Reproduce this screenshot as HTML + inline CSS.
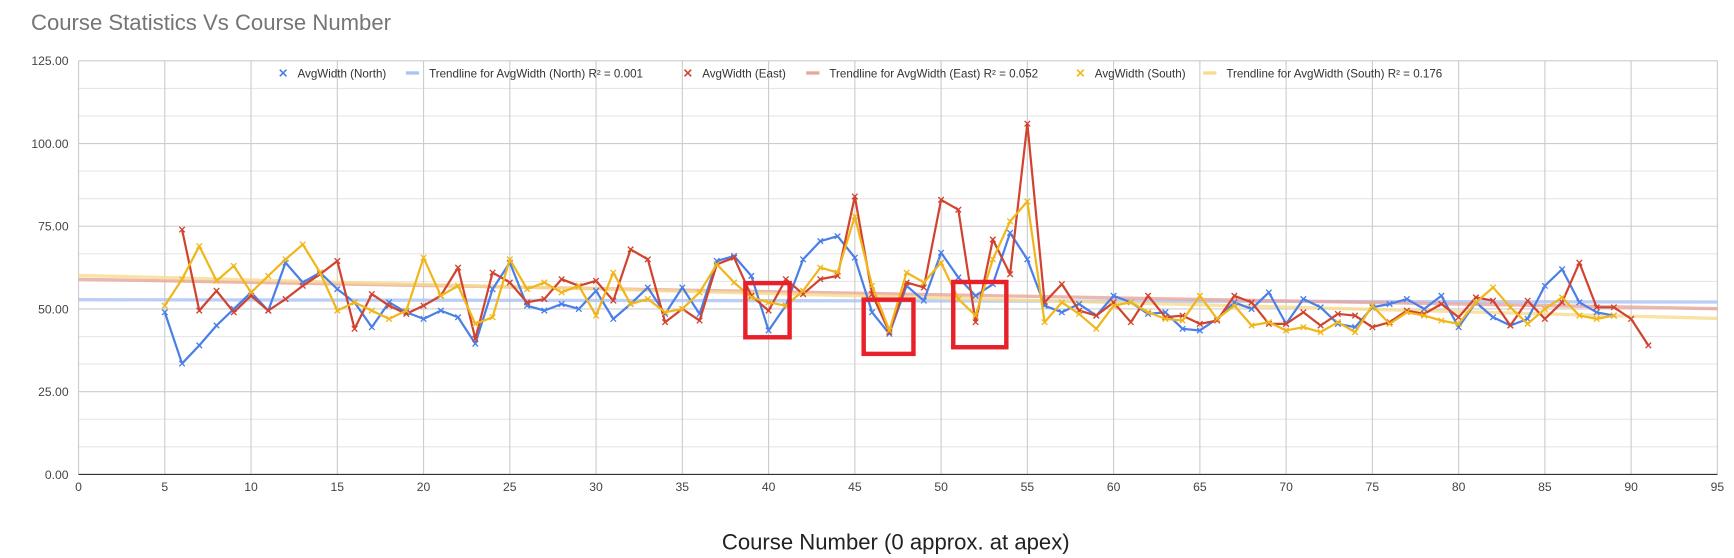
<!DOCTYPE html>
<html><head><meta charset="utf-8"><style>
body{margin:0;background:#fff;font-family:"Liberation Sans",Arial,sans-serif;overflow:hidden}
svg{display:block}
</style></head><body>
<svg id="c" width="1734" height="558" viewBox="0 0 1568 504.6">
<text x="28" y="27" font-size="20" fill="#757575">Course Statistics Vs Course Number</text>
<text x="810" y="497" font-size="20" fill="#222" text-anchor="middle">Course Number (0 approx. at apex)</text>
<g id="grid"></g><g id="axes"></g><g id="trends"></g><g id="series"></g><g id="legend"></g>
</svg>
<script>
const northX=[5,6,7,8,9,10,11,12,13,14,15,16,17,18,19,20,21,22,23,24,25,26,27,28,29,30,31,32,33,34,35,36,37,38,39,40,41,42,43,44,45,46,47,48,49,50,51,52,53,54,55,56,57,58,59,60,61,62,63,64,65,66,67,68,69,70,71,72,73,74,75,76,77,78,79,80,81,82,83,84,85,86,87,88,89];
const northY=[49,33.5,39,45,50,55,49.5,64,58,61,56,52,44.5,52,49,47,49.5,47.5,39.5,56,64,51,49.5,51.5,50,55.5,47,51.5,56.5,48.5,56.5,48.5,64.5,66,60,43.5,51,65,70.5,72,65.5,49,42.5,57,52.5,67,59.5,54,57.5,73,65,51,49,51.5,48,54,52,48.5,49,44,43.5,47,52,50,55,45.5,53,50.5,45.5,44.5,50.5,51.5,53,50,54,44.5,52,47.5,45,47,57,62,52,49,48];
const eastX=[6,7,8,9,10,11,12,13,14,15,16,17,18,19,20,21,22,23,24,25,26,27,28,29,30,31,32,33,34,35,36,37,38,39,40,41,42,43,44,45,46,47,48,49,50,51,52,53,54,55,56,57,58,59,60,61,62,63,64,65,66,67,68,69,70,71,72,73,74,75,76,77,78,79,80,81,82,83,84,85,86,87,88,89,90,91];
const eastY=[74,49.5,55.5,49,54,49.5,53,57,60.5,64.5,44,54.5,51,48.5,51,54,62.5,41,61,58,52,53,59,57,58.5,52.5,68,65,46,50,46.5,63.5,65.5,54,49.5,59,54.5,59,60,84,54.5,43,58,56.5,83,80,46,71,60.5,106,52,57.5,49.5,48,52,46,54,47.5,48,45.5,46.5,54,52,45.5,45.5,49,45,48.5,48,44.5,46,49.5,48.5,51.5,47.5,53.5,52.5,45,52.5,47,52,64,50.5,50.5,47,39];
const southX=northX.slice();
const southY=[51,59,69,58.5,63,55,60,65,69.5,61,49.5,52,49.5,47,49.5,65.5,54,57,45.5,47.5,65,56,58,55,57,48,61,51.5,53,49,50,55,63.5,58,53.5,52,51,55.5,62.5,61,78,57,43.5,61,58,64,53,48,65,76.5,82.5,46,52,48.5,44,51,52,49,47,46.5,54,47,51,45,46,43.5,44.5,43,46,43,51,45.5,49,48,46.5,45.5,52,56.5,50.5,45.5,50,53.5,48,47,48];
const yTicks=[0,25,50,75,100,125];
const xTicks=[0,5,10,15,20,25,30,35,40,45,50,55,60,65,70,75,80,85,90,95];
const NS="http://www.w3.org/2000/svg";
const X0=71,X1=1553,Y0=429,Y1=55,XMAX=95,YMAX=125;
const sx=v=>X0+(X1-X0)*v/XMAX, sy=v=>Y0-(Y0-Y1)*v/YMAX;
function mk(tag,at,par){const e=document.createElementNS(NS,tag);for(const k in at)e.setAttribute(k,at[k]);document.getElementById(par).appendChild(e);return e;}
for(let v=0;v<=YMAX+0.01;v+=25/3){const maj=Math.abs(v%25)<0.01||Math.abs(v%25-25)<0.01;
const l=mk('line',{x1:X0,x2:X1,y1:sy(v),y2:sy(v),stroke:maj?'#ccc':'#e6e6e6','stroke-width':1},'grid');

}
xTicks.forEach(t=>{const l=mk('line',{x1:sx(t),x2:sx(t),y1:Y1,y2:Y0,stroke:'#ccc','stroke-width':1},'grid');


const tx=mk('text',{x:sx(t),y:Y0+15,'font-size':11,fill:'#444','text-anchor':'middle'},'axes');tx.textContent=t;

});
yTicks.forEach(t=>{const tx=mk('text',{x:62,y:sy(t)+4,'font-size':11,fill:'#444','text-anchor':'end'},'axes');tx.textContent=t.toFixed(2);

});
const ax=mk('line',{x1:X0,x2:X1,y1:Y0,y2:Y0,stroke:'#333','stroke-width':1},'axes');


function trend(xs,ys){const n=xs.length;let mx=0,my=0;xs.forEach((x,i)=>{mx+=x;my+=ys[i]});mx/=n;my/=n;let a=0,b=0;xs.forEach((x,i)=>{a+=(x-mx)*(ys[i]-my);b+=(x-mx)*(x-mx)});const m=a/b;return [my-m*mx,m];}
const series=[['north',northX,northY,'#4a7fe8','#a9c3f5'],['east',eastX,eastY,'#d1432f','#e9a69b'],['south',southX,southY,'#f0b61a','#f7db8e']];
series.forEach(([nm,xs,ys,c,tc])=>{const [b,m]=trend(xs,ys);
const tl=mk('line',{x1:X0,x2:X1,y1:sy(b),y2:sy(b+m*XMAX),stroke:tc,'stroke-width':3,opacity:0.8},'trends');

});
series.forEach(([nm,xs,ys,c])=>{const p=mk('polyline',{points:xs.map((x,i)=>sx(x)+','+sy(ys[i])).join(' '),fill:'none',stroke:c,'stroke-width':2,'stroke-linejoin':'round'},'series');


xs.forEach((x,i)=>{const X=sx(x),Y=sy(ys[i]);const m=mk('path',{d:`M${X-2.5},${Y-2.5}L${X+2.5},${Y+2.5}M${X-2.5},${Y+2.5}L${X+2.5},${Y-2.5}`,stroke:c,'stroke-width':1.2},'series');

});});
const leg=[['AvgWidth (North)','#4a7fe8',256,1],['Trendline for AvgWidth (North) R² = 0.001','#a9c3f5',379,0],['AvgWidth (East)','#d1432f',622,1],['Trendline for AvgWidth (East) R² = 0.052','#e9a69b',741,0],['AvgWidth (South)','#f0b61a',977,1],['Trendline for AvgWidth (South) R² = 0.176','#f7db8e',1100,0]];
leg.forEach(([t,c,x,mark])=>{let s;if(mark){s=mk('path',{d:`M${x-3},${63}L${x+3},${69}M${x-3},${69}L${x+3},${63}`,stroke:c,'stroke-width':1.5},'legend');}else{s=mk('line',{x1:x-12,x2:x,y1:66,y2:66,stroke:c,'stroke-width':3},'legend');}


const tx=mk('text',{x:x+(mark?13:9),y:70,'font-size':10.5,fill:'#333'},'legend');tx.textContent=t;

});
const boxes=[[674,256,40,49],[781,271,45,49],[862,255,48,59]];
boxes.forEach(([x,y,w,h])=>{const r=mk('rect',{x:x,y:y,width:w,height:h,fill:'none',stroke:'#e8202a','stroke-width':4},'legend');

});
</script>
</body></html>
